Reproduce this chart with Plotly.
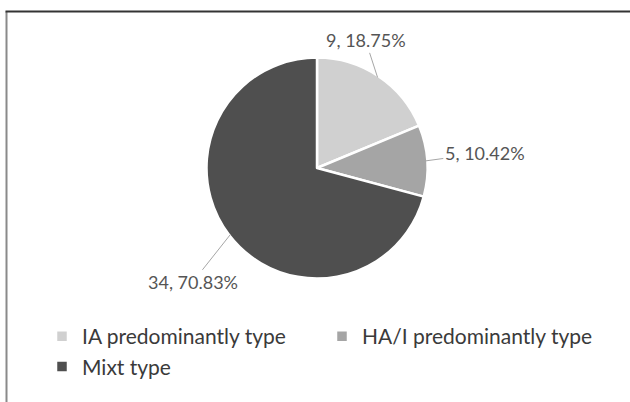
import math
import plotly.graph_objects as go

categories = ["IA predominantly type", "HA/I predominantly type", "Mixt type"]
counts = [9, 5, 34]
percents = [18.75, 10.42, 70.83]
colors = ["#d0d0d0", "#a5a5a5", "#4f4f4f"]

W, H = 630, 402
# pie geometry in pixels
cx, cy, R = 317, 168, 109
Rd = R + 1.5
dom_x = [(cx - Rd) / W, (cx + Rd) / W]
dom_y = [1 - (cy + Rd) / H, 1 - (cy - Rd) / H]

fig = go.Figure()
fig.add_trace(go.Pie(
    labels=categories, values=counts, sort=False, direction="clockwise",
    rotation=0, marker=dict(colors=colors, line=dict(color="white", width=2.5)),
    textinfo="none", hoverinfo="label+value+percent",
    domain=dict(x=dom_x, y=dom_y), showlegend=True,
))

# label offsets (px) from the slice edge to the label centre
label_offsets = [(-12, -37), (59, -8), (-38, 48)]
total = sum(counts)
start = 0.0
annotations = []
for i, (c, p) in enumerate(zip(counts, percents)):
    ang = (start + c / total / 2) * 2 * math.pi
    start += c / total
    ex = cx + R * math.sin(ang)
    ey = cy - R * math.cos(ang)
    ox, oy = label_offsets[i]
    annotations.append(dict(
        x=ex / W, y=1 - ey / H, xref="paper", yref="paper",
        text=f"{c}, {p:.2f}%", showarrow=True, arrowhead=0, arrowwidth=1,
        arrowcolor="#a6a6a6", ax=ox, ay=oy, standoff=0,
        font=dict(family="Lato, sans-serif", size=18, color="#555555"),
    ))

shapes = [
    dict(type="line", xref="paper", yref="paper", x0=6.5 / W, x1=6.5 / W,
         y0=0, y1=1 - 11.5 / H, line=dict(color="#8a8a8a", width=2)),
    dict(type="line", xref="paper", yref="paper", x0=5.5 / W, x1=1,
         y0=1 - 11.5 / H, y1=1 - 11.5 / H, line=dict(color="#333333", width=2)),
]

fig.update_layout(
    width=W, height=H, margin=dict(l=0, r=0, t=0, b=0),
    paper_bgcolor="white", plot_bgcolor="white",
    annotations=annotations, shapes=shapes,
    legend=dict(orientation="h", x=42 / W, xanchor="left", y=1 - 316 / H, yanchor="top",
                font=dict(family="Lato, sans-serif", size=21, color="#3a3a3a"),
                itemwidth=30, entrywidth=235, traceorder="normal"),
)
fig.write_html("out.html", config={"displayModeBar": False},
               post_script="document.body.style.margin='0';")
